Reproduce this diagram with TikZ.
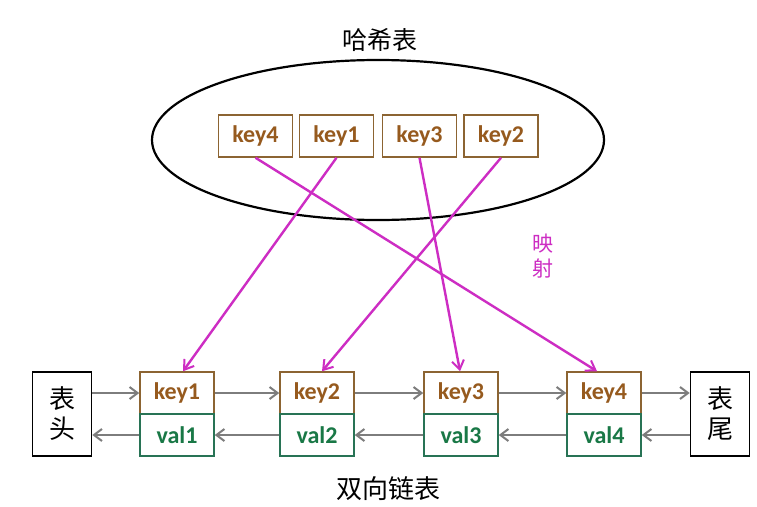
\documentclass[tikz,border=0pt]{standalone}
\usepackage{fontspec}
\setmainfont{Carlito}
\newfontfamily\cjk{Noto Sans CJK SC}
\usetikzlibrary{shapes.geometric,arrows.meta,calc}
\definecolor{keytxt}{RGB}{150,90,30}
\definecolor{keybd}{RGB}{140,100,50}
\definecolor{valtxt}{RGB}{25,120,70}
\definecolor{valbd}{RGB}{40,115,85}
\definecolor{mag}{RGB}{205,45,195}
\definecolor{garr}{RGB}{125,125,125}
\tikzset{
  keybox/.style={draw=keybd, line width=1.5pt, fill=white, minimum width=74pt, minimum height=42pt, inner sep=0pt, font=\fontsize{24}{24}\selectfont\bfseries, text=keytxt},
  topkey/.style={keybox, minimum height=42pt},
  valbox/.style={draw=valbd, line width=1.5pt, fill=white, minimum width=74pt, minimum height=42pt, inner sep=0pt, font=\fontsize{24}{24}\selectfont\bfseries, text=valtxt},
  endbox/.style={draw=black, line width=1.6pt, minimum width=59pt, minimum height=84pt, inner sep=0pt, font=\cjk\fontsize{26}{30}\selectfont, align=center},
  garrow/.style={draw=garr, line width=2.6pt, -{Straight Barb[length=8pt,width=12pt,line width=2pt]}},
  marrow/.style={draw=mag, line width=2.4pt, -{Straight Barb[length=9pt,width=12pt,line width=2pt]}},
  titletext/.style={font=\cjk\fontsize{25}{25}\selectfont}
}
\begin{document}
\begin{tikzpicture}[x=1pt,y=-1pt]
\useasboundingbox[fill=white] (0,0) rectangle (757,506);
% hash table
\node[titletext] (htitle) at (380,40) {哈希表};
\node[ellipse, draw=black, line width=2.2pt, minimum width=452pt, minimum height=160pt, inner sep=0pt] (hash) at (378,140) {};
\node[topkey] (tk4) at (255.5,136) {key4};
\node[topkey] (tk1) at (336.5,136) {key1};
\node[topkey] (tk3) at (419.5,136) {key3};
\node[topkey] (tk2) at (501,136) {key2};
% linked list
\node[endbox] (head) at (62,414) {表\\头};
\node[endbox] (tail) at (720,414) {表\\尾};
\node[keybox] (k1) at (177,393) {key1};
\node[valbox] (v1) at (177,435) {val1};
\node[keybox] (k2) at (317,393) {key2};
\node[valbox] (v2) at (317,435) {val2};
\node[keybox] (k3) at (461,393) {key3};
\node[valbox] (v3) at (461,435) {val3};
\node[keybox] (k4) at (604,393) {key4};
\node[valbox] (v4) at (604,435) {val4};
\node[titletext, font=\cjk\fontsize{26}{26}\selectfont] (ltitle) at (388,489) {双向链表};
% forward arrows
\draw[garrow] (k1.west -| head.east) -- (k1.west);
\draw[garrow] (k1.east) -- (k2.west);
\draw[garrow] (k2.east) -- (k3.west);
\draw[garrow] (k3.east) -- (k4.west);
\draw[garrow] (k4.east) -- (k4.east -| tail.west);
% backward arrows
\draw[garrow] (v1.west) -- (v1.west -| head.east);
\draw[garrow] (v2.west) -- (v1.east);
\draw[garrow] (v3.west) -- (v2.east);
\draw[garrow] (v4.west) -- (v3.east);
\draw[garrow] (v4.east -| tail.west) -- (v4.east);
% mapping arrows
\draw[marrow] (tk4.south) -- ([xshift=-7pt]k4.north);
\draw[marrow] (tk1.south) -- ([xshift=6pt]k1.north);
\draw[marrow] (tk3.south) -- ([xshift=-1pt]k3.north);
\draw[marrow] (tk2.south) -- ([xshift=5pt]k2.north);
\node[font=\cjk\fontsize{21}{25}\selectfont, text=mag, align=center] (map) at (543,256) {映\\射};
\end{tikzpicture}
\end{document}
